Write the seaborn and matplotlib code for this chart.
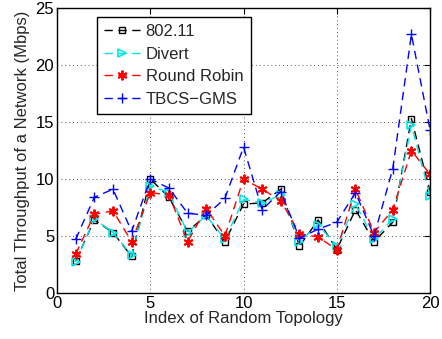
import matplotlib
matplotlib.use("Agg")
import matplotlib.pyplot as plt
import seaborn as sns
import numpy as np

topology = list(range(1, 21))
ieee80211 = [2.8, 6.4, 5.3, 3.2, 10.0, 8.4, 5.4, 6.8, 4.5, 7.8, 7.9, 9.1, 4.1, 6.4, 3.8, 7.3, 4.5, 6.2, 15.3, 8.9]
divert = [2.7, 6.5, 5.3, 3.3, 9.4, 8.8, 5.3, 6.8, 4.7, 8.2, 7.9, 8.6, 4.5, 6.0, 4.1, 7.8, 4.7, 6.5, 14.7, 8.5]
round_robin = [3.4, 6.9, 7.2, 4.5, 8.8, 8.6, 4.5, 7.4, 5.0, 10.0, 9.1, 8.1, 5.2, 4.9, 3.8, 9.1, 5.3, 7.3, 12.5, 10.4]
tbcs_gms = [4.7, 8.4, 9.1, 5.4, 10.0, 9.2, 7.0, 6.8, 8.3, 12.8, 7.3, 8.9, 4.8, 5.6, 6.2, 8.8, 5.0, 10.9, 22.7, 14.3]

series_names = ["802.11", "Divert", "Round Robin", "TBCS\u2212GMS"]
series_vals = [ieee80211, divert, round_robin, tbcs_gms]
x_ticks = [0, 5, 10, 15, 20]
y_ticks = [0, 5, 10, 15, 20, 25]

sns.set_style("white")
plt.rcParams['font.family'] = ['Liberation Sans', 'DejaVu Sans']

fig = plt.figure(figsize=(4.42, 3.39), dpi=100)
ax = fig.add_axes([0.129, 0.136, 0.844, 0.840])

styles = [
    dict(color="black", marker="s", markersize=5, mew=1.0),
    dict(color="#00e5e5", marker=">", markersize=6, mew=1.2),
    dict(color="red", marker=(6, 2, 0), markersize=7, mew=1.4),
    dict(color="blue", marker="+", markersize=7, mew=1.0),
]
for name, vals, st in zip(series_names, series_vals, styles):
    sns.lineplot(x=topology, y=vals, ax=ax, label=name, color=st["color"],
                 marker=st["marker"], markersize=st["markersize"],
                 markerfacecolor="none", markeredgecolor=st["color"],
                 markeredgewidth=st["mew"], linewidth=1.0)
    ax.lines[-1].set_dashes([6, 4])

ax.set_xlim(0, 20)
ax.set_ylim(0, 25)
ax.set_xticks(x_ticks)
ax.set_yticks(y_ticks)
ax.grid(True, linestyle=(0, (1, 3)), color="#555555", linewidth=0.7)
for s in ax.spines.values():
    s.set_visible(True)
    s.set_color("black")
    s.set_linewidth(1.0)
ax.tick_params(direction="in", top=True, right=True, length=4, labelsize=12,
               colors="black", pad=2)
ax.set_xlabel("Index of Random Topology", fontsize=12, labelpad=0)
ax.set_ylabel("Total Throughput of a Network (Mbps)", fontsize=12, labelpad=4)

leg = ax.legend(loc="upper left", bbox_to_anchor=(0.106, 0.97), fontsize=12,
                frameon=True, fancybox=False, edgecolor="black", framealpha=1,
                handlelength=2.2, borderpad=0.45, labelspacing=0.45, handletextpad=0.3,
                borderaxespad=0)
leg.get_frame().set_linewidth(1.0)

fig.savefig("out.png", dpi=100)
